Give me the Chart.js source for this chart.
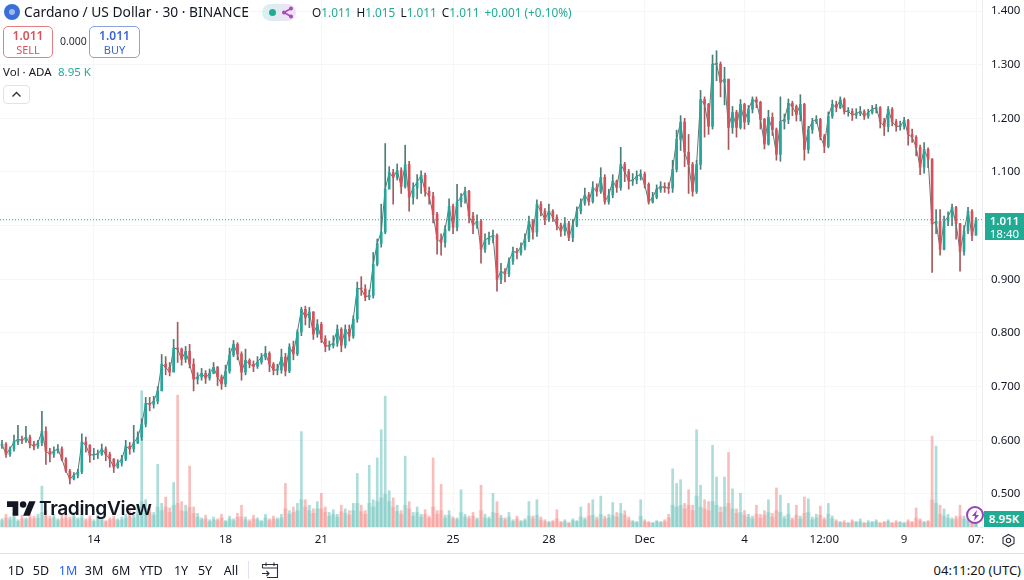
<!DOCTYPE html>
<html lang="en">
<head>
  <meta charset="UTF-8">
  <title>Cardano / US Dollar</title>
  <script src="https://cdn.jsdelivr.net/npm/chart.js"></script>
  <style>
    html, body { margin: 0; background: #fff; }
    body { width: 1024px; height: 580px; position: relative; overflow: hidden; font-family: "Noto Sans", sans-serif; color: #131722; }
    canvas { position: absolute; left: 0; top: 0; filter: blur(0.45px); }
    .abs { position: absolute; white-space: nowrap; }
    .teal { color: #22ab94; }
    .box { position: absolute; box-sizing: border-box; background: #fff; border-radius: 5px; text-align: center; font-size: 11px; line-height: 14px; padding-top: 2px; }
    .box b { display: block; font-size: 12px; font-weight: 600; }
    .range { position: absolute; top: 562px; font-size: 12.5px; color: #131722; transform: translateX(-50%); }
  </style>
</head>
<body>
  <canvas id="chart" width="1024" height="553"></canvas>

  <!-- legend at the top left -->
  <div class="abs" style="left:4px;top:4px;width:16px;height:16px;border-radius:50%;background:#3a6fd8"></div>
  <div class="abs" style="left:9px;top:9px;width:6px;height:6px;border-radius:50%;background:#9db9ee"></div>
  <div class="abs" style="left:24px;top:2px;font-size:13.8px;line-height:20px">Cardano / US Dollar · 30 · BINANCE</div>
  <div class="abs" style="left:262px;top:4px;width:34px;height:17px;border-radius:9px;background:linear-gradient(90deg,#d9f2ee,#f0e0f5)"></div>
  <div class="abs" style="left:269px;top:9px;width:7px;height:7px;border-radius:50%;background:#22ab94"></div>
  <svg class="abs" style="left:281px;top:6px" width="13" height="13" viewBox="0 0 13 13"><path d="M10 2.5L3 6.5L10 10.5" fill="none" stroke="#ab47bc" stroke-width="1.5"/><circle cx="10" cy="2.5" r="2" fill="#ab47bc"/><circle cx="3" cy="6.5" r="2" fill="#ab47bc"/><circle cx="10" cy="10.5" r="2" fill="#ab47bc"/></svg>
  <div class="abs teal" style="left:312px;top:4px;font-size:11.8px;line-height:16px"><span style="color:#131722">O</span>1.011 <span style="color:#131722;margin-left:2px">H</span>1.015 <span style="color:#131722;margin-left:2px">L</span>1.011 <span style="color:#131722;margin-left:2px">C</span>1.011 <span style="margin-left:2px">+0.001 (+0.10%)</span></div>

  <div class="box" style="left:3px;top:26px;width:50px;height:32px;border:1px solid #e57f85;color:#dd4f58"><b>1.011</b>SELL</div>
  <div class="abs" style="left:60px;top:34px;font-size:10.5px;line-height:14px;color:#2a2e39">0.000</div>
  <div class="box" style="left:89px;top:26px;width:51px;height:32px;border:1px solid #8aa2dd;color:#3f63d6"><b>1.011</b>BUY</div>

  <div class="abs" style="left:3px;top:64px;font-size:11.5px;line-height:16px">Vol · ADA</div>
  <div class="abs teal" style="left:58px;top:64px;font-size:11.5px;line-height:16px">8.95 K</div>
  <div class="abs" style="left:3px;top:85px;width:27px;height:19px;box-sizing:border-box;border:1px solid #e0e3eb;border-radius:4px;background:#fff"></div>
  <svg class="abs" style="left:11px;top:91px" width="11" height="7" viewBox="0 0 11 7"><path d="M1.5 5.5L5.5 1.5L9.5 5.5" fill="none" stroke="#2a2e39" stroke-width="1.3"/></svg>

  <!-- watermark -->
  <svg class="abs" style="left:7px;top:500px" width="29" height="17" viewBox="0 4 36 18"><path d="M14 22H7V11H0V4h14v18zM28 22h-8l7.5-18h8L28 22z" fill="#131722"/><circle cx="20" cy="8" r="4" fill="#131722"/></svg>
  <div class="abs" style="left:39px;top:495px;font-family:Inter,sans-serif;font-weight:600;font-size:19.2px;line-height:26px;letter-spacing:-0.4px;color:#131722">TradingView</div>

  <!-- labels on the price scale -->
  <div class="abs" style="left:985px;top:213px;width:39px;height:27px;background:#22ab94;color:#fff;text-align:center;font-size:11.5px;line-height:13px;padding-top:1px;box-sizing:border-box"><b style="font-weight:600">1.011</b><br>18:40</div>
  <div class="abs" style="left:984px;top:511px;width:40px;height:16px;background:#22ab94;color:#fff;text-align:center;font-size:11.5px;font-weight:600;line-height:16px">8.95K</div>
  <div class="abs" style="left:966px;top:506px;width:18px;height:18px;box-sizing:border-box;border:2px solid #9c3fb8;border-radius:50%;background:#fff"></div>
  <svg class="abs" style="left:971px;top:510px" width="9" height="11" viewBox="0 0 9 11"><path d="M6 0L1 6h3L3 11l5-6H5z" fill="#9c3fb8"/></svg>
  <svg class="abs" style="left:1001px;top:533px" width="15" height="15" viewBox="0 0 15 15"><path d="M7.5 1.5L13 4.5V10.5L7.5 13.5L2 10.5V4.5Z" fill="none" stroke="#2a2e39" stroke-width="1.1"/><circle cx="7.5" cy="7.5" r="2.2" fill="none" stroke="#2a2e39" stroke-width="1.1"/></svg>

  <!-- bottom bar -->
  <div class="abs" style="left:0;top:553px;width:1024px;height:1px;background:#e0e3eb"></div>
  <div class="range" style="left:16px">1D</div>
  <div class="range" style="left:41px">5D</div>
  <div class="range" style="left:68px;color:#2962ff">1M</div>
  <div class="range" style="left:94px">3M</div>
  <div class="range" style="left:121px">6M</div>
  <div class="range" style="left:151px">YTD</div>
  <div class="range" style="left:181px">1Y</div>
  <div class="range" style="left:205px">5Y</div>
  <div class="range" style="left:231px">All</div>
  <div class="abs" style="left:248px;top:561px;width:1px;height:18px;background:#e0e3eb"></div>
  <svg class="abs" style="left:261px;top:561px" width="18" height="18" viewBox="0 0 18 18"><path d="M1.5 7V3.5H16.5V16.5H6M1.5 7H16.5M5 1.5V5M13 1.5V5M1 12.5H8M5.5 10L8 12.5L5.5 15" fill="none" stroke="#2a2e39" stroke-width="1.1"/></svg>
  <div class="abs" style="right:3px;top:561px;font-size:13px;line-height:18px">04:11:20 (UTC)</div>

  <script>
    // 30 min candles, one entry for every ~4 px of the time axis
    const closes = [
      0.593, 0.574, 0.584, 0.597, 0.602, 0.600, 0.606, 0.593, 0.589, 0.595,
      0.617, 0.580, 0.574, 0.580, 0.584, 0.565, 0.543, 0.528, 0.535, 0.541,
      0.597, 0.591, 0.572, 0.574, 0.574, 0.584, 0.574, 0.565, 0.550, 0.558,
      0.565, 0.589, 0.584, 0.595, 0.606, 0.630, 0.669, 0.667, 0.673, 0.692,
      0.742, 0.736, 0.727, 0.772, 0.770, 0.751, 0.766, 0.742, 0.714, 0.718,
      0.725, 0.716, 0.725, 0.736, 0.718, 0.705, 0.729, 0.759, 0.779, 0.761,
      0.727, 0.749, 0.742, 0.738, 0.746, 0.755, 0.762, 0.742, 0.731, 0.731,
      0.755, 0.729, 0.774, 0.761, 0.802, 0.844, 0.829, 0.839, 0.798, 0.816,
      0.789, 0.775, 0.777, 0.781, 0.807, 0.777, 0.807, 0.794, 0.826, 0.883,
      0.882, 0.867, 0.870, 0.928, 0.967, 0.988, 1.068, 1.099, 1.090, 1.103,
      1.073, 1.114, 1.053, 1.070, 1.081, 1.094, 1.064, 1.055, 1.021, 0.975,
      0.969, 0.993, 1.036, 0.997, 1.044, 1.053, 1.064, 1.018, 1.001, 1.008,
      0.956, 0.973, 0.978, 0.982, 0.900, 0.915, 0.910, 0.934, 0.952, 0.950,
      0.960, 0.975, 1.008, 0.988, 1.040, 1.027, 1.012, 1.027, 1.016, 1.001,
      0.990, 1.004, 0.978, 1.001, 1.027, 1.042, 1.057, 1.045, 1.071, 1.064,
      1.090, 1.045, 1.057, 1.083, 1.071, 1.114, 1.101, 1.083, 1.085, 1.092,
      1.096, 1.077, 1.044, 1.053, 1.068, 1.073, 1.071, 1.070, 1.105, 1.161,
      1.193, 1.137, 1.114, 1.064, 1.114, 1.235, 1.226, 1.185, 1.301, 1.301,
      1.267, 1.273, 1.183, 1.211, 1.183, 1.226, 1.193, 1.217, 1.235, 1.230,
      1.198, 1.152, 1.202, 1.179, 1.133, 1.194, 1.198, 1.228, 1.222, 1.207,
      1.226, 1.142, 1.179, 1.194, 1.198, 1.166, 1.148, 1.204, 1.226, 1.220,
      1.235, 1.213, 1.213, 1.206, 1.209, 1.213, 1.204, 1.211, 1.217, 1.220,
      1.194, 1.185, 1.217, 1.194, 1.185, 1.185, 1.196, 1.170, 1.165, 1.146,
      1.109, 1.142, 1.124, 1.003, 1.008, 0.956, 1.008, 1.016, 1.034, 1.004,
      0.952, 0.990, 1.027, 0.982, 1.011
    ];
    const highs = [
      0.600, 0.596, 0.588, 0.610, 0.628, 0.608, 0.626, 0.610, 0.598, 0.600,
      0.654, 0.625, 0.585, 0.588, 0.592, 0.588, 0.568, 0.546, 0.540, 0.546,
      0.612, 0.606, 0.592, 0.585, 0.582, 0.593, 0.588, 0.578, 0.566, 0.564,
      0.572, 0.600, 0.596, 0.628, 0.616, 0.640, 0.680, 0.680, 0.682, 0.700,
      0.760, 0.756, 0.745, 0.788, 0.820, 0.772, 0.775, 0.779, 0.752, 0.726,
      0.734, 0.730, 0.733, 0.745, 0.738, 0.722, 0.740, 0.772, 0.786, 0.782,
      0.765, 0.770, 0.752, 0.748, 0.756, 0.762, 0.775, 0.765, 0.745, 0.742,
      0.770, 0.762, 0.780, 0.785, 0.806, 0.848, 0.850, 0.848, 0.840, 0.825,
      0.820, 0.795, 0.785, 0.795, 0.815, 0.810, 0.815, 0.815, 0.832, 0.895,
      0.905, 0.890, 0.880, 0.950, 0.975, 1.040, 1.153, 1.110, 1.105, 1.115,
      1.108, 1.150, 1.120, 1.080, 1.095, 1.102, 1.098, 1.072, 1.062, 1.025,
      0.985, 1.000, 1.050, 1.040, 1.077, 1.060, 1.072, 1.066, 1.025, 1.020,
      1.012, 0.985, 0.988, 0.992, 0.985, 0.930, 0.920, 0.940, 0.960, 0.958,
      0.968, 0.985, 1.018, 1.012, 1.048, 1.045, 1.032, 1.040, 1.030, 1.020,
      1.005, 1.015, 1.008, 1.012, 1.035, 1.050, 1.070, 1.062, 1.082, 1.078,
      1.108, 1.095, 1.068, 1.095, 1.085, 1.146, 1.118, 1.105, 1.097, 1.102,
      1.104, 1.100, 1.080, 1.062, 1.076, 1.082, 1.080, 1.080, 1.122, 1.178,
      1.205, 1.200, 1.170, 1.118, 1.122, 1.252, 1.240, 1.228, 1.318, 1.326,
      1.305, 1.295, 1.273, 1.222, 1.215, 1.235, 1.228, 1.224, 1.240, 1.240,
      1.232, 1.200, 1.215, 1.210, 1.182, 1.240, 1.208, 1.236, 1.232, 1.225,
      1.244, 1.228, 1.185, 1.200, 1.205, 1.200, 1.170, 1.212, 1.234, 1.232,
      1.240, 1.238, 1.220, 1.218, 1.218, 1.222, 1.216, 1.217, 1.224, 1.226,
      1.222, 1.200, 1.222, 1.220, 1.198, 1.195, 1.202, 1.198, 1.180, 1.168,
      1.150, 1.155, 1.145, 1.125, 1.030, 1.030, 1.018, 1.026, 1.040, 1.036,
      1.004, 1.000, 1.034, 1.030, 1.015
    ];
    const lows = [
      0.585, 0.568, 0.570, 0.580, 0.592, 0.594, 0.596, 0.586, 0.582, 0.585,
      0.590, 0.555, 0.560, 0.568, 0.576, 0.562, 0.540, 0.519, 0.526, 0.530,
      0.538, 0.578, 0.559, 0.564, 0.566, 0.572, 0.562, 0.550, 0.540, 0.548,
      0.552, 0.562, 0.574, 0.578, 0.594, 0.600, 0.625, 0.655, 0.660, 0.668,
      0.725, 0.722, 0.720, 0.728, 0.745, 0.740, 0.745, 0.735, 0.692, 0.705,
      0.712, 0.706, 0.712, 0.724, 0.702, 0.695, 0.700, 0.725, 0.756, 0.750,
      0.712, 0.722, 0.735, 0.728, 0.734, 0.742, 0.750, 0.728, 0.722, 0.722,
      0.725, 0.720, 0.726, 0.750, 0.758, 0.795, 0.815, 0.810, 0.788, 0.792,
      0.782, 0.765, 0.768, 0.772, 0.775, 0.765, 0.772, 0.785, 0.790, 0.820,
      0.870, 0.860, 0.862, 0.865, 0.925, 0.960, 0.985, 1.085, 1.040, 1.085,
      1.060, 1.070, 1.027, 1.040, 1.050, 1.060, 1.055, 1.040, 1.005, 0.947,
      0.945, 0.960, 0.990, 0.985, 0.990, 1.035, 1.042, 1.005, 0.985, 0.995,
      0.930, 0.950, 0.965, 0.968, 0.878, 0.892, 0.895, 0.905, 0.928, 0.938,
      0.945, 0.955, 0.970, 0.975, 0.980, 1.018, 1.002, 1.008, 1.008, 0.992,
      0.980, 0.982, 0.972, 0.970, 0.998, 1.022, 1.038, 1.038, 1.042, 1.055,
      1.060, 1.040, 1.040, 1.052, 1.062, 1.066, 1.082, 1.068, 1.075, 1.078,
      1.085, 1.070, 1.040, 1.042, 1.050, 1.062, 1.062, 1.060, 1.062, 1.100,
      1.140, 1.110, 1.060, 1.055, 1.060, 1.105, 1.165, 1.170, 1.180, 1.270,
      1.240, 1.225, 1.142, 1.172, 1.165, 1.180, 1.180, 1.188, 1.210, 1.220,
      1.180, 1.143, 1.150, 1.168, 1.122, 1.120, 1.180, 1.190, 1.205, 1.195,
      1.195, 1.122, 1.135, 1.172, 1.190, 1.160, 1.136, 1.145, 1.200, 1.212,
      1.218, 1.208, 1.204, 1.196, 1.200, 1.205, 1.198, 1.200, 1.208, 1.210,
      1.182, 1.168, 1.175, 1.186, 1.176, 1.178, 1.180, 1.150, 1.155, 1.130,
      1.095, 1.098, 1.108, 0.913, 0.985, 0.945, 0.955, 1.000, 1.000, 0.975,
      0.915, 0.945, 0.985, 0.972, 1.000
    ];
    // peak volume in each slot, thousands of ADA
    const volumes = [
      9, 14, 11, 16, 8, 13, 10, 15, 12, 14,
      45, 18, 12, 14, 9, 13, 15, 11, 16, 10,
      14, 9, 12, 8, 13, 11, 7, 10, 12, 9,
      11, 14, 18, 13, 24, 150, 30, 22, 16, 69,
      26, 33, 21, 49, 145, 28, 24, 67, 22, 15,
      10, 13, 8, 11, 9, 14, 7, 12, 9, 15,
      24, 11, 8, 13, 10, 7, 14, 9, 12, 10,
      14, 48, 18, 22, 26, 105, 30, 24, 20, 28,
      37, 22, 16, 19, 14, 24, 20, 18, 26, 59,
      24, 18, 68, 30, 76, 107, 144, 40, 32, 24,
      18, 78, 28, 16, 22, 14, 19, 12, 76, 18,
      47, 13, 18, 11, 10, 41, 14, 12, 16, 10,
      46, 14, 11, 37, 28, 13, 10, 16, 8, 12,
      7, 9, 28, 12, 30, 11, 8, 6, 7, 19,
      6, 8, 5, 9, 7, 22, 10, 26, 30, 11,
      34, 12, 14, 27, 16, 26, 18, 11, 7, 6,
      30, 8, 6, 5, 7, 6, 8, 14, 64, 48,
      52, 26, 41, 24, 107, 46, 30, 28, 90, 55,
      22, 55, 82, 42, 20, 37, 18, 14, 12, 24,
      14, 18, 30, 15, 43, 35, 12, 26, 10, 24,
      12, 33, 31, 11, 14, 23, 10, 26, 12, 8,
      6, 7, 5, 8, 6, 9, 5, 7, 6, 8,
      5, 6, 8, 5, 7, 6, 5, 8, 6, 21,
      9, 6, 7, 100, 89, 24, 20, 14, 10, 12,
      24, 12, 10, 14, 8.95
    ];
    // the usual level under those peaks in each slot
    const volumeFloor = [
      7, 10, 8, 11, 6, 9, 8, 10, 9, 10,
      16, 12, 9, 10, 7, 9, 10, 8, 11, 8,
      10, 7, 9, 6, 9, 8, 6, 8, 9, 7,
      8, 10, 12, 10, 14, 28, 20, 16, 13, 22,
      18, 22, 16, 24, 26, 18, 17, 22, 15, 11,
      8, 9, 6, 8, 7, 10, 6, 9, 7, 11,
      11, 8, 6, 9, 8, 6, 10, 7, 9, 8,
      10, 20, 14, 16, 18, 30, 22, 18, 15, 20,
      20, 16, 12, 14, 11, 17, 15, 13, 18, 26,
      17, 14, 26, 22, 28, 32, 36, 28, 22, 17,
      14, 24, 20, 12, 16, 11, 14, 10, 22, 14,
      18, 10, 13, 9, 8, 16, 11, 9, 12, 8,
      18, 10, 9, 16, 15, 10, 8, 11, 6, 9,
      6, 7, 12, 9, 13, 8, 6, 5, 6, 9,
      5, 6, 4, 7, 6, 11, 8, 12, 13, 8,
      14, 9, 10, 13, 11, 15, 13, 8, 6, 5,
      12, 6, 5, 4, 6, 5, 6, 10, 24, 22,
      24, 20, 24, 18, 34, 22, 20, 18, 28, 24,
      16, 22, 26, 20, 15, 16, 13, 11, 9, 14,
      10, 13, 16, 11, 18, 16, 9, 14, 8, 13,
      9, 15, 16, 8, 10, 13, 8, 14, 9, 6,
      5, 5, 4, 6, 5, 6, 4, 5, 5, 6,
      4, 5, 6, 4, 5, 5, 4, 6, 5, 10,
      7, 5, 6, 30, 26, 14, 12, 10, 8, 9,
      12, 9, 8, 10, 8.95
    ];
    const firstOpen = 0.590;
    const lastPrice = 1.011;
    const tickIndex = [23, 56, 80, 113, 137, 161, 186, 206, 226, 244];
    const tickText = ['14', '18', '21', '25', '28', 'Dec', '4', '12:00', '9', '07:'];

    const UP = '#26a69a';
    const DOWN = '#d9505a';
    const opens = closes.map((c, i) => i === 0 ? firstOpen : closes[i - 1]);
    const isUp = closes.map((c, i) => c >= opens[i]);
    // one empty slot to the right of the last candle
    const labels = closes.map((c, i) => String(i)).concat('');

    const lastPriceLine = {
      id: 'lastPriceLine',
      afterDatasetsDraw(chart) {
        const y = chart.scales.y.getPixelForValue(lastPrice);
        const c = chart.ctx;
        c.save();
        c.strokeStyle = UP;
        c.setLineDash([1, 2]);
        c.beginPath();
        c.moveTo(chart.chartArea.left, y);
        c.lineTo(chart.chartArea.right, y);
        c.stroke();
        c.restore();
      }
    };

    new Chart(document.getElementById('chart'), {
      type: 'bar',
      plugins: [lastPriceLine],
      data: {
        labels,
        datasets: [
          {
            label: 'Body',
            data: closes.map((c, i) => [opens[i], c]),
            backgroundColor: isUp.map(u => u ? UP : DOWN),
            barThickness: 2,
            grouped: false,
            order: 1,
            minBarLength: 1
          },
          {
            // joins the closes so the candles read as one run, as they do at this zoom
            type: 'line',
            label: 'Close',
            data: closes,
            borderColor: '#5f7774',
            borderWidth: 1,
            pointRadius: 0,
            order: 2
          },
          {
            label: 'Wick',
            data: highs.map((h, i) => [lows[i], h]),
            backgroundColor: isUp.map(u => u ? '#4a7f78' : '#a8585c'),
            barThickness: 1,
            grouped: false,
            order: 3
          },
          {
            label: 'Vol',
            data: volumes,
            yAxisID: 'vol',
            backgroundColor: isUp.map(u => u ? 'rgba(38,166,154,0.38)' : 'rgba(239,83,80,0.38)'),
            barThickness: 2,
            grouped: false,
            order: 4
          },
          {
            label: 'Vol floor',
            data: volumeFloor,
            yAxisID: 'vol',
            backgroundColor: isUp.map(u => u ? 'rgba(38,166,154,0.2)' : 'rgba(239,83,80,0.2)'),
            barThickness: 4,
            grouped: false,
            order: 5
          }
        ]
      },
      options: {
        responsive: false,
        animation: false,
        layout: { padding: 0 },
        plugins: { legend: { display: false }, tooltip: { enabled: false } },
        scales: {
          x: {
            grid: { color: '#f5f6f7', offset: false, drawTicks: false },
            border: { color: '#eceef1' },
            afterBuildTicks(axis) {
              axis.ticks = axis.ticks.filter(t => tickIndex.includes(t.value));
            },
            afterFit(axis) {
              axis.height = 26;
              axis.paddingLeft = 0;
              axis.paddingRight = 0;
            },
            ticks: {
              autoSkip: false,
              maxRotation: 0,
              padding: 6,
              color: '#131722',
              font: { family: '"Noto Sans"', size: 11.5 },
              callback: v => tickText[tickIndex.indexOf(v)]
            }
          },
          y: {
            position: 'right',
            min: 0.4385,
            max: 1.4205,
            grid: { color: '#f5f6f7', drawTicks: false },
            border: { color: '#eceef1' },
            afterFit(axis) {
              axis.width = 42;
              axis.paddingTop = 0;
              axis.paddingBottom = 0;
            },
            ticks: {
              stepSize: 0.1,
              includeBounds: false,
              padding: 9,
              color: '#131722',
              font: { family: '"Noto Sans"', size: 11.5 },
              callback: v => v.toFixed(3)
            }
          },
          vol: {
            display: false,
            min: 0,
            max: 580
          }
        }
      }
    });
  </script>
</body>
</html>
